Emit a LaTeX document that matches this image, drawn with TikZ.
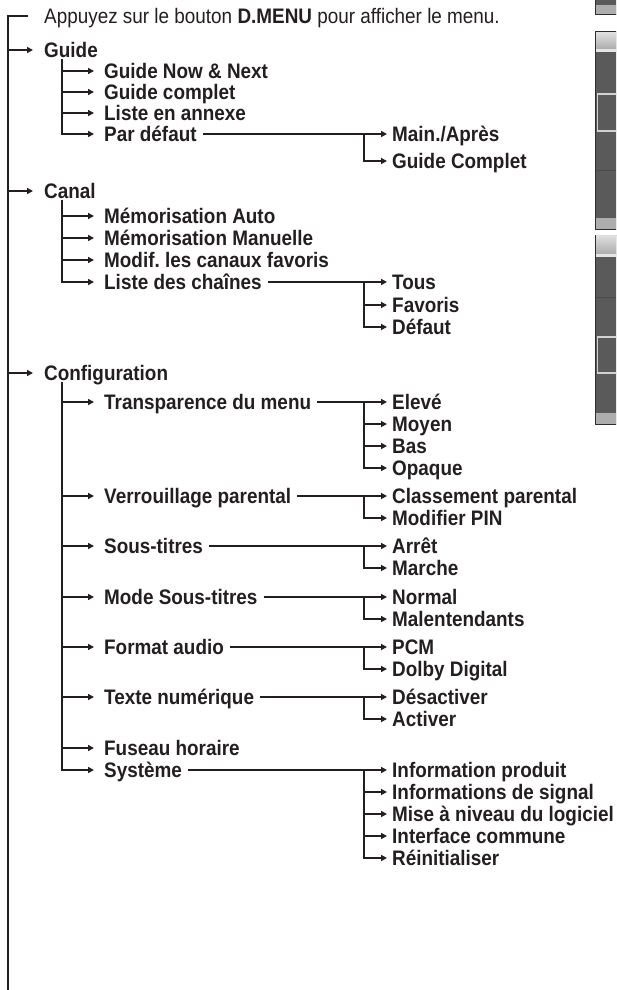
\documentclass[tikz,border=0pt]{standalone}
\usepackage{fontspec}
\setmainfont{Liberation Sans}[FakeStretch=0.9]
\usetikzlibrary{arrows.meta}
\definecolor{ink}{HTML}{231F20}
\definecolor{boxdark}{HTML}{5A5A5A}
\definecolor{boxedge}{HTML}{2E2E2E}
\definecolor{stripgray}{HTML}{ADADAD}
\definecolor{hlgray}{HTML}{D2D2D2}
\definecolor{sepgray}{HTML}{4A4A4A}
\begin{document}
\frenchspacing
\begin{tikzpicture}[x=1pt,y=-1pt,
  lbl/.style={anchor=west,inner sep=0pt,text height=15pt,text depth=0pt,
    font=\fontsize{21}{25}\selectfont\bfseries,text=ink},
  normtxt/.style={lbl,font=\fontsize{21}{25}\selectfont},
  ln/.style={draw=ink,line width=1.5pt},
  arr/.style={ln,-{Triangle[length=6pt,width=6pt]}},
  boxframe/.style={draw=boxedge,line width=1pt,fill=boxdark},
  hlframe/.style={draw=hlgray,line width=1.2pt}]
\clip (0,0) rectangle (616,990);
\fill[white] (0,0) rectangle (616,990);

% ---- screenshot fragments on the right ----
\draw[boxframe] (595.5,-5) rectangle (622,15);
\fill[stripgray] (596,5) rectangle (616,14.5);

\draw[boxframe] (595.5,32) rectangle (622,229);
\shade[top color=gray!25,bottom color=gray!65] (596,32.5) rectangle (616,49);
\fill[gray!20] (596,49) rectangle (616,52);
\draw[sepgray,line width=0.8pt] (596,170) -- (616,170);
\draw[hlframe] (597.5,94) rectangle (620,131);
\fill[stripgray] (596,218) rectangle (616,228.5);

\draw[boxframe] (595.5,235) rectangle (622,424);
\shade[top color=gray!25,bottom color=gray!65] (596,235.5) rectangle (616,254);
\fill[gray!20] (596,254) rectangle (616,257);
\draw[sepgray,line width=0.8pt] (596,297) -- (616,297);
\draw[hlframe] (597.5,337) rectangle (620,373);
\fill[stripgray] (596,413) rectangle (616,423.5);

% ---- nodes ----
\node[normtxt] (top) at (44,16) {Appuyez sur le bouton \textbf{D.MENU} pour afficher le menu.};
\node[lbl] (guide) at (44,50) {Guide};
\node[lbl] (gnn) at (104,71) {Guide Now \& Next};
\node[lbl] (gc) at (104,92) {Guide complet};
\node[lbl] (lea) at (104,113) {Liste en annexe};
\node[lbl] (pard) at (104,134) {Par défaut};
\node[lbl] (mapres) at (392,134) {Main./Après};
\node[lbl] (gcomp) at (392,161) {Guide Complet};

\node[lbl] (canal) at (44,191) {Canal};
\node[lbl] (ma) at (104,216) {Mémorisation Auto};
\node[lbl] (mm) at (104,238) {Mémorisation Manuelle};
\node[lbl] (mcf) at (104,260) {Modif. les canaux favoris};
\node[lbl] (ldc) at (104,282) {Liste des chaînes};
\node[lbl] (tous) at (392,282) {Tous};
\node[lbl] (fav) at (392,305) {Favoris};
\node[lbl] (defa) at (392,327) {Défaut};

\node[lbl] (config) at (44,373) {Configuration};
\node[lbl] (tdm) at (104,402) {Transparence du menu};
\node[lbl] (elev) at (392,402) {Elevé};
\node[lbl] (moy) at (392,424) {Moyen};
\node[lbl] (bas) at (392,446) {Bas};
\node[lbl] (opa) at (392,468) {Opaque};
\node[lbl] (vp) at (104,496) {Verrouillage parental};
\node[lbl] (cp) at (392,496) {Classement parental};
\node[lbl] (mpin) at (392,518) {Modifier PIN};
\node[lbl] (st) at (104,546) {Sous-titres};
\node[lbl] (arre) at (392,546) {Arrêt};
\node[lbl] (marc) at (392,568) {Marche};
\node[lbl] (mst) at (104,597) {Mode Sous-titres};
\node[lbl] (nor) at (392,597) {Normal};
\node[lbl] (mal) at (392,619) {Malentendants};
\node[lbl] (fa) at (104,647) {Format audio};
\node[lbl] (pcm) at (392,647) {PCM};
\node[lbl] (dd) at (392,669) {Dolby Digital};
\node[lbl] (tn) at (104,697) {Texte numérique};
\node[lbl] (desa) at (392,697) {Désactiver};
\node[lbl] (acti) at (392,719) {Activer};
\node[lbl] (fh) at (104,748) {Fuseau horaire};
\node[lbl] (sys) at (104,770) {Système};
\node[lbl] (ip) at (392,770) {Information produit};
\node[lbl] (isig) at (392,792) {Informations de signal};
\node[lbl] (mnl) at (392,814) {Mise à niveau du logiciel};
\node[lbl] (ic) at (392,836) {Interface commune};
\node[lbl] (rei) at (392,858) {Réinitialiser};

% ---- coordinates ----
\coordinate (mtop) at (8,16);
\coordinate (mbot) at (8,990);
\coordinate (vx) at (364,0);
\coordinate (g2) at (62,59);
\coordinate (c2) at (62,200);
\coordinate (k2) at (62,382);

% ---- main trunk ----
\draw[ln] ([xshift=-16pt]top.west) -- (mtop) -- (mbot);
\foreach \n in {guide,canal,config}
  \draw[arr] (mtop |- \n.west) -- ([xshift=-11pt]\n.west);

% ---- second level ----
\foreach \n in {gnn,gc,lea}
  \draw[arr] (g2 |- \n.west) -- ([xshift=-10pt]\n.west);
\draw[arr] (g2) |- ([xshift=-10pt]pard.west);

\foreach \n in {ma,mm,mcf}
  \draw[arr] (c2 |- \n.west) -- ([xshift=-10pt]\n.west);
\draw[arr] (c2) |- ([xshift=-10pt]ldc.west);

\foreach \n in {tdm,vp,st,mst,fa,tn,fh}
  \draw[arr] (k2 |- \n.west) -- ([xshift=-10pt]\n.west);
\draw[arr] (k2) |- ([xshift=-10pt]sys.west);

% ---- third level ----
\foreach \p/\a/\l in {pard/mapres/gcomp, ldc/tous/defa, tdm/elev/opa, vp/cp/mpin,
                      st/arre/marc, mst/nor/mal, fa/pcm/dd, tn/desa/acti, sys/ip/rei}{
  \draw[arr] ([xshift=6pt]\p.east) -- ([xshift=-5pt]\a.west);
  \draw[arr] (vx |- \a.west) |- ([xshift=-5pt]\l.west);
}
\foreach \n in {fav,moy,bas,isig,mnl,ic}
  \draw[arr] (vx |- \n.west) -- ([xshift=-5pt]\n.west);
\end{tikzpicture}
\end{document}
